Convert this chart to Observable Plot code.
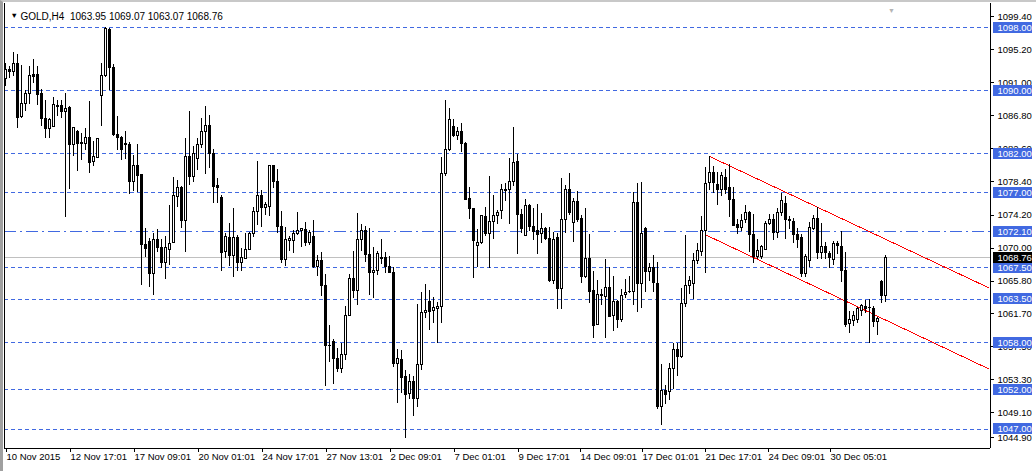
<!DOCTYPE html>
<html><head><meta charset="utf-8">
<script src="https://cdn.jsdelivr.net/npm/d3@7"></script>
<script src="https://cdn.jsdelivr.net/npm/@observablehq/plot@0.6"></script>
<style>html,body{margin:0;padding:0;background:#fff}#wrap{position:relative;width:1036px;height:471px}#chart svg{display:block}
#edge{position:absolute;left:0;top:0;width:1036px;height:471px;box-sizing:border-box;border-left:3px solid #a0a0a0;border-top:2px solid #c8c8c8;pointer-events:none}</style>
</head><body><div id="wrap"><div id="chart"></div><div id="edge"></div></div>
<script>
const symbolName = "GOLD,H4";
const open = [
1091.52,1092.57,1092.36,1093.34,1086.64,1088.34,1089.61,1091.94,1091.94,1089.52,
1086.43,1085.12,1085.37,1088.08,1088.0,1087.28,1087.83,1083.08,1084.69,1083.25,
1083.25,1084.01,1080.92,1081.47,1089.31,1091.81,1097.74,1092.91,1084.4,1084.01,
1083.25,1083.12,1078.38,1080.46,1079.31,1070.46,1070.79,1066.73,1071.09,1070.07,
1068.08,1069.78,1070.67,1076.47,1077.57,1073.42,1081.51,1079.01,1081.34,1083.12,
1084.78,1085.46,1081.98,1077.83,1076.39,1069.48,1071.3,1069.01,1071.3,1068.08,
1068.63,1069.78,1071.81,1074.61,1076.64,1075.12,1075.2,1080.46,1078.42,1072.7,
1068.46,1070.88,1070.88,1071.81,1072.15,1072.32,1070.62,1071.47,1067.66,1068.42,
1065.2,1057.58,1058.08,1055.92,1054.61,1056.43,1061.39,1066.09,1064.57,1071.05,
1072.2,1069.18,1066.81,1067.06,1068.76,1068.76,1067.57,1066.81,1055.29,1055.8,
1053.6,1051.47,1053.0,1050.84,1055.16,1061.77,1063.17,1061.98,1062.28,1062.58,
1079.44,1082.49,1085.37,1084.27,1084.78,1083.25,1076.26,1074.99,1070.25,1070.62,
1073.97,1071.81,1073.34,1074.1,1074.74,1077.4,1077.4,1078.38,1080.96,1074.23,
1071.6,1075.29,1072.7,1072.15,1071.81,1072.49,1071.22,1065.8,1071.35,1064.78,
1073.59,1077.36,1073.17,1075.88,1073.76,1066.3,1068.68,1064.57,1060.25,1064.06,
1063.8,1064.95,1061.39,1063.21,1060.88,1064.01,1064.4,1064.4,1075.67,1065.41,
1072.49,1066.94,1067.53,1065.5,1049.78,1051.9,1051.69,1054.65,1057.07,1056.14,
1062.87,1065.2,1065.46,1068.42,1069.48,1072.15,1078.29,1079.57,1077.96,1077.4,
1078.93,1077.57,1076.17,1073.0,1072.57,1073.51,1074.48,1071.68,1068.93,1068.93,
1069.78,1073.08,1073.59,1071.98,1074.48,1075.54,1073.51,1073.38,1071.68,1071.3,
1066.73,1068.34,1072.45,1073.72,1069.4,1070.2,1069.27,1068.55,1070.54,1070.2,
1067.15,1060.37,1060.71,1060.88,1062.07,1062.58,1062.41,1062.28,1060.58,1065.75,
1063.95];
const high = [
1093.42,1093.0,1094.82,1094.57,1093.21,1090.03,1093.08,1093.93,1093.0,1090.16,
1088.76,1086.43,1089.18,1088.76,1088.68,1089.61,1088.0,1085.37,1084.95,1084.52,
1085.16,1088.63,1083.55,1083.97,1093.42,1098.0,1097.87,1093.34,1086.73,1084.18,
1084.82,1083.38,1081.81,1083.12,1079.31,1072.45,1071.18,1071.9,1072.36,1071.13,
1071.47,1075.37,1078.93,1078.63,1077.79,1083.97,1087.36,1082.91,1083.97,1086.43,
1088.0,1086.85,1082.49,1078.85,1076.68,1071.81,1073.12,1074.99,1071.6,1069.95,
1071.81,1072.02,1075.12,1081.0,1077.32,1075.84,1080.54,1080.54,1079.99,1074.61,
1072.66,1071.51,1072.28,1074.48,1072.53,1073.25,1072.24,1073.51,1069.06,1069.4,
1066.6,1060.16,1058.38,1057.32,1057.96,1062.58,1066.6,1069.57,1074.4,1073.0,
1072.74,1072.45,1070.03,1069.57,1071.05,1069.4,1068.97,1067.57,1057.2,1057.07,
1054.44,1054.02,1053.68,1062.87,1064.31,1065.33,1064.61,1063.68,1063.13,1081.56,
1088.76,1087.7,1086.35,1085.37,1085.84,1083.38,1077.66,1074.99,1072.32,1074.1,
1075.16,1079.1,1076.68,1074.78,1078.08,1078.17,1081.39,1085.29,1081.9,1074.95,
1076.13,1075.54,1074.99,1075.54,1074.4,1072.66,1072.62,1072.02,1071.81,1078.8,
1077.96,1079.44,1076.35,1077.15,1074.1,1075.03,1071.77,1067.06,1065.84,1064.69,
1068.55,1067.53,1066.39,1063.34,1064.69,1065.97,1066.39,1077.02,1078.17,1078.34,
1072.57,1068.08,1069.06,1068.13,1055.29,1052.53,1055.37,1057.92,1057.92,1064.82,
1071.6,1066.39,1069.27,1070.54,1074.02,1080.2,1081.6,1080.41,1079.57,1079.57,
1079.99,1080.62,1077.74,1073.59,1074.23,1075.37,1074.65,1074.27,1071.09,1070.29,
1073.38,1074.23,1074.23,1075.03,1076.98,1076.6,1074.02,1073.8,1072.53,1071.68,
1069.14,1073.21,1074.14,1075.16,1073.17,1070.75,1069.57,1070.84,1070.84,1072.15,
1069.44,1061.94,1061.98,1062.49,1062.83,1063.34,1063.42,1062.58,1061.22,1065.92,
1069.07];
const low = [
1090.46,1091.52,1091.73,1085.12,1086.51,1087.4,1088.21,1090.88,1088.04,1085.46,
1083.97,1083.97,1085.29,1086.73,1086.51,1073.93,1077.45,1081.68,1079.78,1081.13,
1082.4,1079.52,1080.37,1081.34,1085.46,1091.69,1089.99,1084.18,1082.4,1081.13,
1081.26,1076.85,1077.15,1077.02,1065.24,1068.8,1065.03,1064.01,1069.4,1067.36,
1066.05,1067.79,1070.6,1075.12,1072.53,1069.4,1078.0,1078.34,1079.86,1082.7,
1079.35,1080.16,1075.67,1075.67,1067.06,1068.63,1067.66,1066.3,1067.06,1067.06,
1068.51,1069.69,1071.3,1072.91,1072.66,1074.14,1074.06,1077.62,1071.9,1068.08,
1067.66,1069.61,1069.27,1071.6,1070.12,1070.2,1070.33,1067.36,1066.39,1063.89,
1052.45,1055.5,1052.75,1054.23,1054.14,1055.71,1061.3,1063.63,1062.7,1069.61,
1068.21,1063.97,1063.59,1066.51,1067.87,1066.73,1066.73,1054.86,1050.29,1051.56,
1045.88,1050.84,1048.59,1049.78,1054.44,1061.09,1059.52,1060.5,1057.96,1060.46,
1079.14,1082.28,1084.01,1083.68,1082.19,1076.05,1073.63,1066.18,1067.57,1070.41,
1071.51,1067.45,1071.09,1072.96,1073.59,1075.92,1073.0,1077.83,1069.18,1071.81,
1071.47,1072.15,1070.97,1069.18,1070.62,1070.97,1065.67,1065.37,1062.24,1062.24,
1071.81,1074.1,1070.75,1073.21,1065.46,1066.18,1063.0,1058.55,1060.12,1062.7,
1058.55,1061.22,1059.4,1059.86,1060.58,1063.63,1064.27,1062.7,1061.81,1062.36,
1064.4,1065.71,1064.4,1049.57,1047.45,1050.2,1050.63,1052.11,1053.68,1056.01,
1062.49,1064.1,1063.42,1067.87,1068.93,1066.81,1077.32,1076.94,1075.41,1076.56,
1076.77,1073.93,1072.74,1071.68,1072.11,1073.08,1069.48,1068.08,1068.51,1068.51,
1069.69,1072.87,1070.97,1071.18,1074.06,1071.09,1072.32,1070.62,1069.9,1066.3,
1066.3,1067.49,1072.24,1068.55,1068.55,1068.55,1067.36,1067.79,1069.14,1065.67,
1059.95,1059.23,1060.03,1060.46,1061.3,1061.73,1057.92,1059.95,1058.97,1062.92,
1063.07];
const close = [
1092.57,1092.36,1093.34,1086.51,1088.34,1089.61,1091.81,1091.73,1089.44,1086.39,
1085.12,1086.22,1088.21,1087.91,1087.28,1087.7,1083.08,1085.2,1083.25,1083.3,
1084.01,1080.8,1081.51,1083.8,1091.9,1097.87,1092.91,1084.31,1083.97,1082.4,
1083.04,1078.38,1080.46,1079.18,1070.37,1069.86,1066.73,1071.09,1069.99,1068.08,
1070.07,1070.54,1076.56,1077.66,1073.42,1081.51,1079.01,1081.98,1083.12,1084.78,
1085.46,1081.98,1077.74,1077.57,1069.35,1071.47,1069.01,1071.3,1068.08,1068.76,
1069.78,1071.81,1074.61,1076.64,1075.07,1075.5,1080.46,1078.38,1072.66,1068.46,
1071.05,1071.18,1071.81,1072.15,1072.45,1070.62,1071.94,1067.66,1068.42,1065.2,
1057.58,1057.62,1055.88,1054.61,1056.43,1061.39,1066.09,1064.57,1071.05,1072.2,
1069.1,1066.81,1067.15,1069.27,1068.59,1067.57,1066.81,1055.29,1055.92,1053.51,
1051.35,1053.0,1050.84,1055.16,1061.77,1062.03,1061.86,1062.41,1062.58,1079.44,
1082.49,1086.22,1084.27,1084.78,1083.25,1076.17,1074.99,1070.88,1070.67,1074.1,
1071.81,1073.34,1074.1,1074.48,1077.32,1077.23,1078.38,1080.84,1074.18,1072.41,
1075.37,1072.66,1072.11,1071.68,1072.41,1071.13,1065.8,1070.97,1064.78,1073.59,
1077.36,1074.44,1075.88,1073.51,1066.3,1068.63,1064.4,1060.12,1064.06,1063.89,
1064.95,1061.3,1063.21,1060.88,1063.93,1064.35,1064.44,1075.67,1065.41,1071.81,
1066.94,1067.53,1065.54,1049.78,1051.9,1051.35,1054.65,1057.07,1056.14,1062.87,
1065.2,1065.84,1068.42,1069.69,1072.2,1078.17,1079.57,1078.25,1077.4,1079.1,
1077.32,1076.17,1072.87,1072.57,1073.46,1074.48,1071.68,1068.93,1069.61,1070.12,
1073.08,1073.59,1071.94,1074.48,1076.01,1073.59,1073.46,1071.68,1071.09,1066.73,
1068.89,1072.57,1073.72,1069.4,1070.2,1069.4,1068.8,1070.54,1070.25,1067.06,
1060.29,1060.88,1061.43,1062.24,1062.66,1062.24,1062.37,1060.58,1061.0,1063.89,
1068.76];

// horizontal levels drawn on the chart
const dashLevels = [1098.00, 1090.00, 1082.00, 1077.00, 1067.50, 1063.50, 1058.00, 1052.00, 1047.00];
const dashDotLevels = [1072.10];
const bidPrice = 1068.76;
// price-scale tick labels
const priceTicks = [1099.40, 1095.20, 1091.00, 1086.80, 1082.60, 1078.40, 1074.20, 1070.00, 1065.80, 1061.70, 1057.50, 1053.30, 1049.10];
const bottomPriceTick = [1044.90];
// time-scale labels (bar index -> label)
const timeTickBars = [0, 16, 32, 48, 64, 80, 96, 112, 128, 143.5, 159, 174.75, 190.5, 206];
const timeTickLabels = ["10 Nov 2015", "12 Nov 17:01", "17 Nov 09:01", "20 Nov 01:01", "24 Nov 17:01", "27 Nov 13:01", "2 Dec 09:01", "7 Dec 01:01", "9 Dec 17:01", "14 Dec 09:01", "17 Dec 01:01", "21 Dec 17:01", "24 Dec 09:01", "30 Dec 05:01"];
// channel trend lines (bar index, price)
const upperChannel = [{bar: 176, price: 1081.64}, {bar: 245.75, price: 1064.98}];
const lowerChannel = [{bar: 175, price: 1071.70}, {bar: 245.75, price: 1054.69}];

const bars = open.map((o, i) => ({i, open: o, high: high[i], low: low[i], close: close[i]}));

const W = 1036, H = 471, mL = 4, mR = 46, mT = 3, mB = 23;
const barPx = 4, pxPerUnit = 7.88;
const xDomain = [-0.25, -0.25 + (W - mL - mR) / barPx];
const refPrice = 1098, refPx = 27;
const yDomain = [refPrice - (H - mB - refPx) / pxPerUnit, refPrice + (refPx - mT) / pxPerUnit];

const BLUE = "#4169e1";
const FONT = "'Liberation Sans', Arial, sans-serif";
const boxSymbol = {draw(ctx) { ctx.moveTo(-1, -6); ctx.lineTo(38, -6); ctx.lineTo(38, 5); ctx.lineTo(-1, 5); ctx.closePath(); }};
const tickLabelMap = new Map(timeTickBars.map((b, k) => [b, timeTickLabels[k]]));
const last = bars[bars.length - 1];
const NB = "\u00a0";
const title = `${symbolName}${NB}${NB}${last.open.toFixed(2)}${NB}${last.high.toFixed(2)}${NB}${last.low.toFixed(2)}${NB}${last.close.toFixed(2)}`;

const chart = Plot.plot({
  width: W, height: H,
  marginLeft: mL, marginRight: mR, marginTop: mT, marginBottom: mB,
  style: {fontFamily: FONT, fontSize: "9.5px", background: "#fff", color: "#000", shapeRendering: "crispEdges"},
  x: {type: "linear", domain: xDomain, axis: null},
  y: {type: "linear", domain: yDomain, axis: null},
  marks: [
    Plot.ruleY(dashLevels, {stroke: BLUE, strokeDasharray: "4,3"}),
    Plot.ruleY(dashDotLevels, {stroke: BLUE, strokeDasharray: "12,4,2,4"}),
    Plot.ruleY([bidPrice], {stroke: "#c0c0c0"}),
    Plot.line(upperChannel, {x: "bar", y: "price", stroke: "#ff0000", strokeWidth: 1}),
    Plot.line(lowerChannel, {x: "bar", y: "price", stroke: "#ff0000", strokeWidth: 1}),
    Plot.ruleX(bars, {x: "i", y1: "low", y2: "high", stroke: "#000"}),
    Plot.rect(bars, {x1: d => d.i - 0.25, x2: d => d.i + 0.25, y1: "open", y2: "close",
      fill: d => d.close >= d.open ? "#fff" : "#000", stroke: "#000"}),
    // frame: left, right, bottom
    Plot.ruleX([xDomain[0], xDomain[1]], {stroke: "#000"}),
    Plot.ruleY([yDomain[0]], {stroke: "#000"}),
    // chart-shift marker
    Plot.text(["\u25BC"], {x: [bars.length], frameAnchor: "top", dx: 2, dy: 5, fontSize: 7, fill: "#b4b4b4"}),
    // time axis
    Plot.axisX(timeTickBars, {anchor: "bottom", tickSize: 4, tickPadding: 1, textAnchor: "start", dx: 1,
      tickFormat: d => tickLabelMap.get(d), fontSize: 9.5, fill: "#000"}),
    // price axis
    Plot.axisY(priceTicks, {anchor: "right", tickSize: 3, tickPadding: 4, tickFormat: d => d.toFixed(2), fontSize: 9.5, fill: "#000"}),
    Plot.axisY(bottomPriceTick, {anchor: "right", tickSize: 3, tickPadding: 4, dy: -8, tickFormat: d => d.toFixed(2), fontSize: 9.5, fill: "#000"}),
    // level labels
    Plot.dot(dashLevels.concat(dashDotLevels), {y: d => d, frameAnchor: "right", dx: 3, symbol: boxSymbol, fill: BLUE, stroke: "none", r: 3}),
    Plot.text(dashLevels.concat(dashDotLevels), {y: d => d, frameAnchor: "right", dx: 7, textAnchor: "start", text: d => d.toFixed(2), fill: "#fff", fontSize: 9.5}),
    Plot.dot([bidPrice], {y: d => d, frameAnchor: "right", dx: 3, symbol: boxSymbol, fill: "#000", stroke: "none", r: 3}),
    Plot.text([bidPrice], {y: d => d, frameAnchor: "right", dx: 7, textAnchor: "start", text: d => d.toFixed(2), fill: "#fff", fontSize: 9.5}),
    // title
    Plot.text(["\u25BC"], {frameAnchor: "top-left", dx: 6, dy: 9, fontSize: 7.5, textAnchor: "start", fill: "#000"}),
    Plot.text([title], {frameAnchor: "top-left", dx: 16, dy: 9, fontSize: 10, textAnchor: "start", fill: "#000"})
  ]
});
document.getElementById("chart").appendChild(chart);
</script>
</body></html>
